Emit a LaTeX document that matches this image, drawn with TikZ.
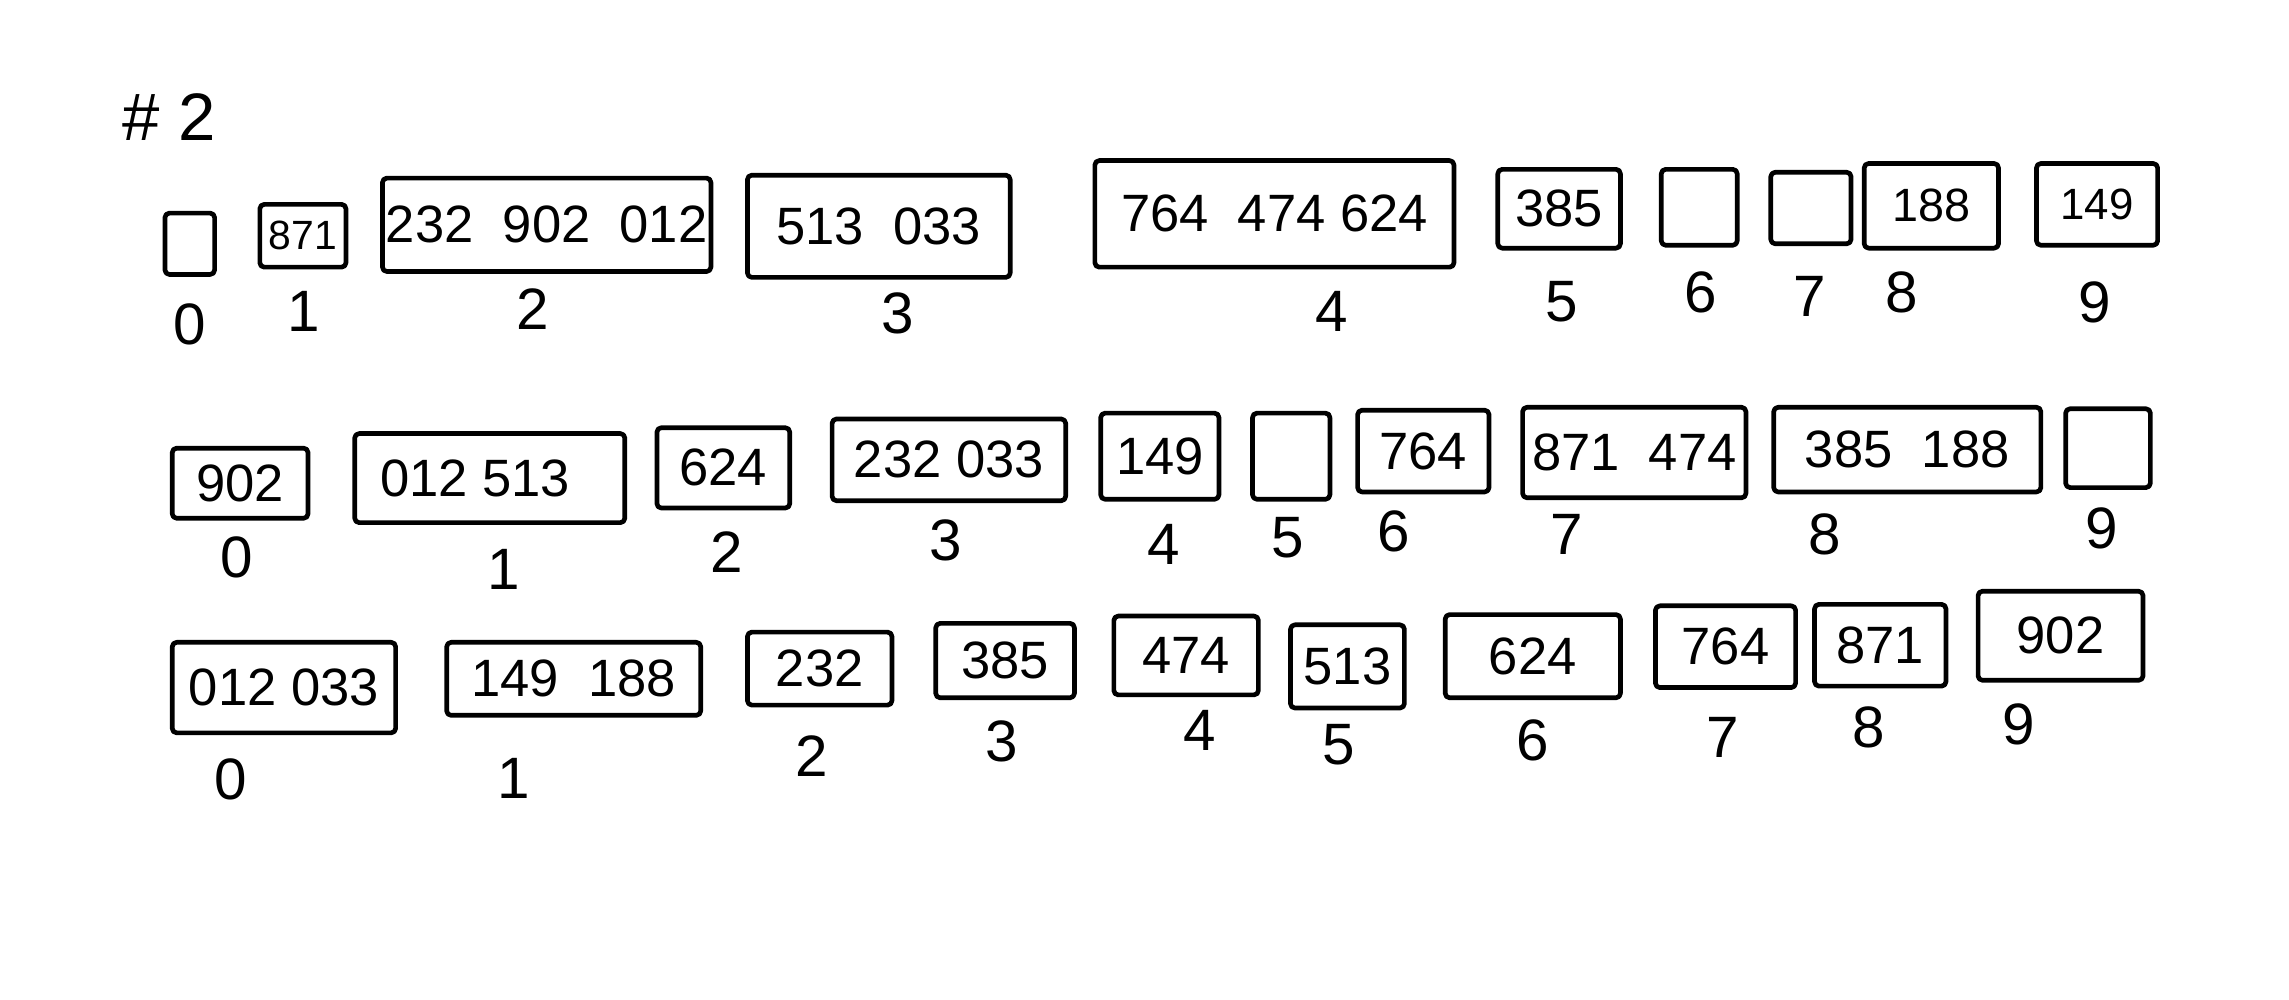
\documentclass[tikz,border=0pt]{standalone}
\usepackage{fontspec}
\setmainfont{Liberation Sans}
\begin{document}
\begin{tikzpicture}[x=1pt,y=-1pt,
  bx/.style={draw=black,line width=3.2pt,line join=round,rounded corners=3pt,inner sep=0pt,
    font=\fontsize{36}{40}\selectfont},
  lbl/.style={inner sep=0pt,font=\fontsize{40}{44}\selectfont},
  ttl/.style={inner sep=0pt,font=\fontsize{46}{50}\selectfont}]
\useasboundingbox (0,0) rectangle (1568,685);
\node[ttl] (title) at (116,80) {\# 2};
% ---- row 1
\node[bx,minimum width=34pt,minimum height=42pt] (a0) at (130,167) {};
\node[bx,minimum width=59pt,minimum height=43pt,font=\fontsize{28}{30}\selectfont] (a1) at (207.5,161.5) {871};
\node[bx,minimum width=225pt,minimum height=64pt] (a2) at (374.5,154) {232\ \ 902\ \ 012};
\node[bx,minimum width=180pt,minimum height=70pt] (a3) at (602,155) {513\ \ 033};
\node[bx,minimum width=246pt,minimum height=73pt] (a4) at (873,146.5) {764\ \ 474\ 624};
\node[bx,minimum width=84pt,minimum height=54pt] (a5) at (1068,143) {385};
\node[bx,minimum width=52pt,minimum height=52pt] (a6) at (1164,142) {};
\node[bx,minimum width=55pt,minimum height=49pt] (a7) at (1240.5,142.5) {};
\node[bx,minimum width=92pt,minimum height=58pt,font=\fontsize{32}{34}\selectfont] (a8) at (1323,141) {188};
\node[bx,minimum width=83pt,minimum height=56pt,font=\fontsize{30}{32}\selectfont] (a9) at (1436.5,140) {149};
\node[lbl] (la0) at (130,222) {0};
\node[lbl] (la1) at (208,213) {1};
\node[lbl] (la2) at (365,212) {2};
\node[lbl] (la3) at (615,215) {3};
\node[lbl] (la4) at (912,213) {4};
\node[lbl] (la5) at (1070,207) {5};
\node[lbl] (la6) at (1165,200) {6};
\node[lbl] (la7) at (1240,203) {7};
\node[lbl] (la8) at (1303,200) {8};
\node[lbl] (la9) at (1435,207) {9};
% ---- row 2
\node[bx,minimum width=93pt,minimum height=48pt] (b0) at (164.5,331) {902};
\node[bx,minimum width=185pt,minimum height=61pt] (b1) at (335.5,327.5) {012 513\ \ \ };
\node[bx,minimum width=91pt,minimum height=55pt] (b2) at (495.5,320.5) {624};
\node[bx,minimum width=160pt,minimum height=56pt] (b3) at (650,315) {232 033};
\node[bx,minimum width=81pt,minimum height=59pt] (b4) at (794.5,312.5) {149};
\node[bx,minimum width=53pt,minimum height=59pt] (b5) at (884.5,312.5) {};
\node[bx,minimum width=90pt,minimum height=56pt] (b6) at (975,309) {764};
\node[bx,minimum width=153pt,minimum height=62pt] (b7) at (1119.5,310) {871\ \ 474};
\node[bx,minimum width=183pt,minimum height=58pt] (b8) at (1306.5,308) {385\ \ 188};
\node[bx,minimum width=58pt,minimum height=54pt] (b9) at (1444,307) {};
\node[lbl] (lb0) at (162,382) {0};
\node[lbl] (lb1) at (345,390) {1};
\node[lbl] (lb2) at (498,378) {2};
\node[lbl] (lb3) at (648,370) {3};
\node[lbl] (lb4) at (797,373) {4};
\node[lbl] (lb5) at (882,368) {5};
\node[lbl] (lb6) at (955,364) {6};
\node[lbl] (lb7) at (1073,366) {7};
\node[lbl] (lb8) at (1250,366) {8};
\node[lbl] (lb9) at (1440,362) {9};
% ---- row 3
\node[bx,minimum width=153pt,minimum height=62pt] (c0) at (194.5,471) {012 033};
\node[bx,minimum width=174pt,minimum height=50pt] (c1) at (393,465) {149\ \ 188};
\node[bx,minimum width=99pt,minimum height=50pt] (c2) at (561.5,458) {232};
\node[bx,minimum width=95pt,minimum height=51pt] (c3) at (688.5,452.5) {385};
\node[bx,minimum width=99pt,minimum height=54pt] (c4) at (812.5,449) {474};
\node[bx,minimum width=78pt,minimum height=57pt] (c5) at (923,456.5) {513};
\node[bx,minimum width=120pt,minimum height=57pt] (c6) at (1050,449.5) {624};
\node[bx,minimum width=96pt,minimum height=56pt] (c7) at (1182,443) {764};
\node[bx,minimum width=90pt,minimum height=56pt] (c8) at (1288,442) {871};
\node[bx,minimum width=113pt,minimum height=61pt] (c9) at (1411.5,435.5) {902};
\node[lbl] (lc0) at (158,534) {0};
\node[lbl] (lc1) at (352,533) {1};
\node[lbl] (lc2) at (556,518) {2};
\node[lbl] (lc3) at (686,508) {3};
\node[lbl] (lc4) at (822,500) {4};
\node[lbl] (lc5) at (917,510) {5};
\node[lbl] (lc6) at (1050,507) {6};
\node[lbl] (lc7) at (1180,505) {7};
\node[lbl] (lc8) at (1280,498) {8};
\node[lbl] (lc9) at (1383,496) {9};
\end{tikzpicture}
\end{document}
